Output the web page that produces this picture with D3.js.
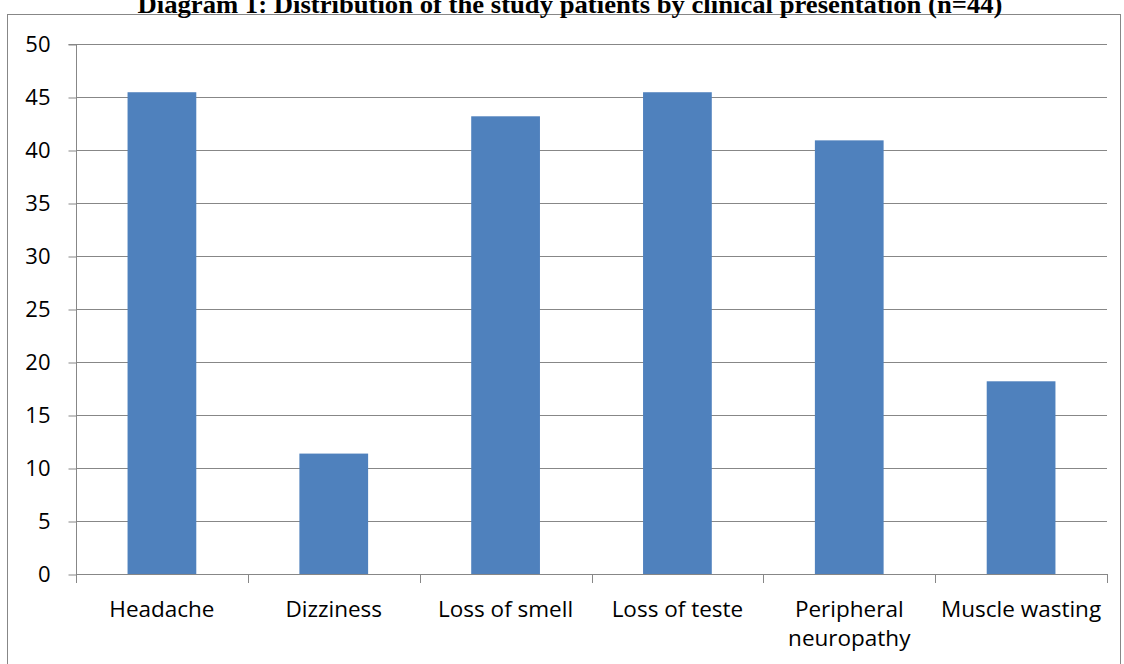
<!DOCTYPE html>
<html>
<head>
<meta charset="utf-8">
<script src="https://cdn.jsdelivr.net/npm/d3@7"></script>
<style>
  html, body { margin: 0; padding: 0; background: #fff; }
  svg { display: block; }
</style>
</head>
<body>
<svg id="chart" width="1124" height="664"></svg>
<script>
// Share of patients (%) presenting each symptom, n = 44
const categories = ["Headache", "Dizziness", "Loss of smell", "Loss of teste", "Peripheral neuropathy", "Muscle wasting"];
const values = [45.45, 11.36, 43.18, 45.45, 40.91, 18.18];
const yTicks = [0, 5, 10, 15, 20, 25, 30, 35, 40, 45, 50];
const title = "Diagram 1: Distribution of the study patients by clinical presentation (n=44)";

const svg = d3.select("#chart");
const plot = { left: 76, right: 1107, top: 44, bottom: 574 };
const gridColor = "#878787";
const barColor = "#4F81BD";
const labelFont = "'Open Sans', 'DejaVu Sans', sans-serif";

// outer chart frame
svg.append("rect")
  .attr("x", 7.5).attr("y", 14.5)
  .attr("width", 1113).attr("height", 680)
  .attr("fill", "#fff").attr("stroke", gridColor).attr("stroke-width", 1);

// title (sits above the frame)
svg.append("text")
  .attr("x", 570).attr("y", 13)
  .attr("text-anchor", "middle")
  .attr("font-family", "'Liberation Serif', 'Times New Roman', serif")
  .attr("font-weight", "bold")
  .attr("font-size", 25)
  .attr("textLength", 865)
  .attr("lengthAdjust", "spacingAndGlyphs")
  .attr("fill", "#000")
  .text(title);

const x = d3.scaleBand().domain(categories).range([plot.left, plot.right]).padding(0);
const y = d3.scaleLinear().domain([0, 50]).range([plot.bottom, plot.top]);

// horizontal gridlines
svg.append("g")
  .selectAll("line")
  .data(yTicks.filter(d => d > 0))
  .join("line")
  .attr("x1", plot.left).attr("x2", plot.right)
  .attr("y1", d => Math.round(y(d)) + 0.5).attr("y2", d => Math.round(y(d)) + 0.5)
  .attr("stroke", gridColor).attr("stroke-width", 1);

// bars: 150% gap width, i.e. bar = 40% of the category slot
const barW = x.bandwidth() * 0.4;
svg.append("g")
  .selectAll("rect")
  .data(categories)
  .join("rect")
  .attr("x", (d) => x(d) + (x.bandwidth() - barW) / 2)
  .attr("width", barW)
  .attr("y", (d, i) => y(values[i]))
  .attr("height", (d, i) => y(0) - y(values[i]))
  .attr("fill", barColor);

// y axis
const yAxis = d3.axisLeft(y).tickValues(yTicks).tickSize(8).tickPadding(18).tickFormat(d3.format("d"));
const gy = svg.append("g")
  .attr("transform", `translate(${plot.left + 0.5},0)`)
  .call(yAxis);
gy.select(".domain").attr("stroke", gridColor).attr("d", `M-8,${plot.top + 0.5}H0V${plot.bottom + 0.5}`);
gy.selectAll(".tick line").attr("stroke", gridColor)
  .attr("transform", "translate(0,0.5)");
gy.selectAll(".tick text")
  .attr("font-family", labelFont).attr("font-size", 22).attr("fill", "#000");

// x axis: ticks on category boundaries
const boundaries = categories.map(c => x(c)).concat([plot.right]);
svg.append("line")
  .attr("x1", plot.left).attr("x2", plot.right)
  .attr("y1", plot.bottom + 0.5).attr("y2", plot.bottom + 0.5)
  .attr("stroke", gridColor);
svg.append("g")
  .selectAll("line")
  .data(boundaries)
  .join("line")
  .attr("x1", d => Math.round(d) + 0.5).attr("x2", d => Math.round(d) + 0.5)
  .attr("y1", plot.bottom).attr("y2", plot.bottom + 9)
  .attr("stroke", gridColor);

// category labels, wrapped into lines that fit the slot
const xLabels = svg.append("g")
  .attr("font-family", labelFont).attr("font-size", 22.5).attr("fill", "#000")
  .attr("text-anchor", "middle");
categories.forEach((c) => {
  const lines = c === "Peripheral neuropathy" ? ["Peripheral", "neuropathy"] : [c];
  const t = xLabels.append("text")
    .attr("x", x(c) + x.bandwidth() / 2)
    .attr("y", 617);
  lines.forEach((ln, j) => {
    t.append("tspan")
      .attr("x", x(c) + x.bandwidth() / 2)
      .attr("dy", j === 0 ? 0 : 29)
      .text(ln);
  });
});
</script>
</body>
</html>
